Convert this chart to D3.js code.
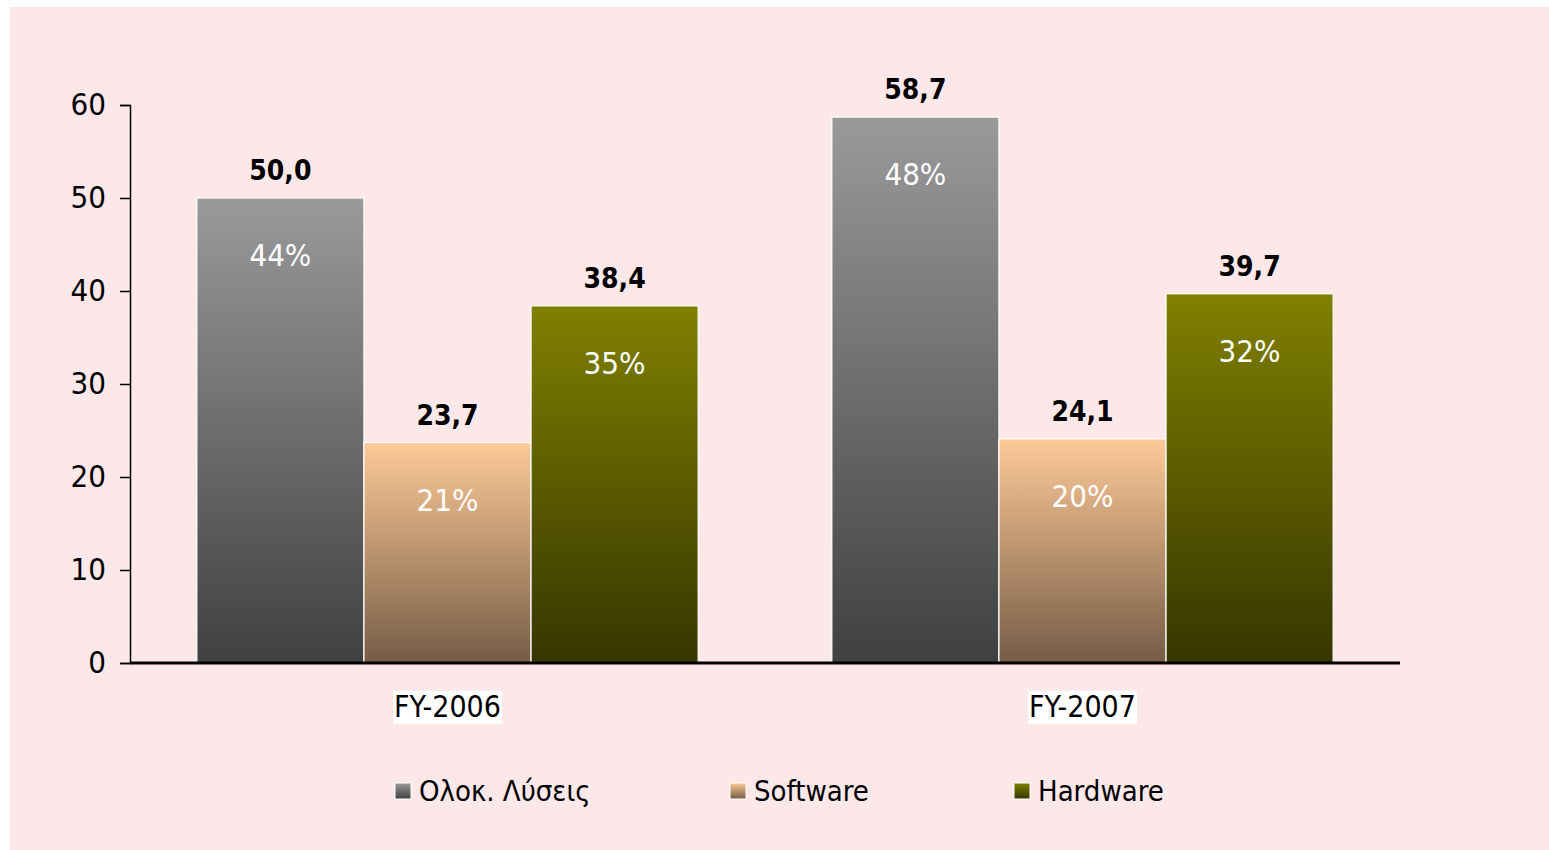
<!DOCTYPE html>
<html>
<head>
<meta charset="utf-8">
<script src="https://cdn.jsdelivr.net/npm/d3@7"></script>
<style>
  body { margin: 0; background: #ffffff; }
  svg { display: block; }
  text { font-family: "DejaVu Sans Condensed", "DejaVu Sans", sans-serif; }
</style>
</head>
<body>
<div id="chart"></div>
<script>
// chart data
const years = ["FY-2006", "FY-2007"];
const seriesNames = ["Ολοκ. Λύσεις", "Software", "Hardware"];
const solutions = [50.0, 58.7];
const software = [23.7, 24.1];
const hardware = [38.4, 39.7];
const solutionsPct = ["44%", "48%"];
const softwarePct = ["21%", "20%"];
const hardwarePct = ["35%", "32%"];
const yTicks = [0, 10, 20, 30, 40, 50, 60];

const W = 1549, H = 850;
const margin = { top: 105, right: 149, bottom: 187, left: 130 };
const width = W - margin.left - margin.right;
const height = H - margin.top - margin.bottom;

const gradients = [
    { id: "g0", top: "#9a9a9a", bottom: "#404040" },
    { id: "g1", top: "#fdca98", bottom: "#765c45" },
    { id: "g2", top: "#808000", bottom: "#363600" }
];

const svg = d3.select("#chart").append("svg")
    .attr("width", W)
    .attr("height", H);

const defs = svg.append("defs");
gradients.forEach(g => {
    const lg = defs.append("linearGradient")
        .attr("id", g.id)
        .attr("x1", 0).attr("y1", 0).attr("x2", 0).attr("y2", 1);
    lg.append("stop").attr("offset", "0%").attr("stop-color", g.top);
    lg.append("stop").attr("offset", "100%").attr("stop-color", g.bottom);
});

// pink slide background
svg.append("rect")
    .attr("x", 10).attr("y", 7)
    .attr("width", W - 10).attr("height", H - 7)
    .attr("fill", "#fde8e9");

const g = svg.append("g")
    .attr("transform", `translate(${margin.left},${margin.top})`);

const x0 = d3.scaleBand()
    .domain(years)
    .range([0, width]);

const x1 = d3.scaleBand()
    .domain(seriesNames)
    .range([0, x0.bandwidth()])
    .paddingOuter(0.4)
    .paddingInner(0);

const y = d3.scaleLinear()
    .domain([0, 60])
    .range([height, 0]);

const rows = years.map((yr, i) => ({
    year: yr,
    items: [
        { name: seriesNames[0], value: solutions[i], pct: solutionsPct[i], grad: "g0" },
        { name: seriesNames[1], value: software[i], pct: softwarePct[i], grad: "g1" },
        { name: seriesNames[2], value: hardware[i], pct: hardwarePct[i], grad: "g2" }
    ]
}));

const groups = g.selectAll(".grp")
    .data(rows)
  .enter().append("g")
    .attr("class", "grp")
    .attr("transform", d => `translate(${x0(d.year)},0)`);

groups.selectAll("rect")
    .data(d => d.items)
  .enter().append("rect")
    .attr("x", d => x1(d.name))
    .attr("y", d => y(d.value))
    .attr("width", x1.bandwidth())
    .attr("height", d => y(0) - y(d.value))
    .attr("fill", d => `url(#${d.grad})`)
    .attr("stroke", "#ffffff")
    .attr("stroke-width", 1.2);

// value labels above bars
groups.selectAll(".val")
    .data(d => d.items)
  .enter().append("text")
    .attr("class", "val")
    .attr("x", d => x1(d.name) + x1.bandwidth() / 2)
    .attr("y", d => y(d.value) - 18)
    .attr("text-anchor", "middle")
    .style("font-size", "28px")
    .style("font-weight", "bold")
    .style("fill", "#000")
    .text(d => d.value.toFixed(1).replace(".", ","));

// percent labels inside bars
groups.selectAll(".pct")
    .data(d => d.items)
  .enter().append("text")
    .attr("class", "pct")
    .attr("x", d => x1(d.name) + x1.bandwidth() / 2)
    .attr("y", d => y(d.value) + 68)
    .attr("text-anchor", "middle")
    .style("font-size", "31px")
    .style("fill", "#ffffff")
    .text(d => d.pct);

// y axis
const yAxis = g.append("g")
    .call(d3.axisLeft(y).tickValues(yTicks).tickSize(10).tickPadding(14));
yAxis.select(".domain").attr("stroke", "#000").attr("stroke-width", 1.5);
yAxis.selectAll(".tick line").attr("stroke", "#000").attr("stroke-width", 1.5);
yAxis.selectAll(".tick text")
    .style("font-size", "31px")
    .style("fill", "#000")
    .style("font-family", "'DejaVu Sans Condensed', 'DejaVu Sans', sans-serif");

// x axis
g.append("line")
    .attr("x1", 0).attr("x2", width)
    .attr("y1", y(0)).attr("y2", y(0))
    .attr("stroke", "#000")
    .attr("stroke-width", 3);

// category labels with white boxes
const cat = g.selectAll(".cat")
    .data(years)
  .enter().append("g")
    .attr("class", "cat")
    .attr("transform", d => `translate(${x0(d) + x0.bandwidth() / 2},${y(0) + 43})`);
cat.append("text")
    .attr("text-anchor", "middle")
    .attr("dy", "0.36em")
    .style("font-size", "30px")
    .style("fill", "#000")
    .text(d => d);
cat.insert("rect", "text")
    .each(function() {
        const b = this.parentNode.querySelector("text").getBBox();
        d3.select(this)
            .attr("x", b.x - 1).attr("y", b.y + 2)
            .attr("width", b.width + 2).attr("height", b.height - 2)
            .attr("fill", "#ffffff");
    });

// legend
const legendX = [395, 730, 1014];
const legend = svg.selectAll(".leg")
    .data(seriesNames)
  .enter().append("g")
    .attr("class", "leg")
    .attr("transform", (d, i) => `translate(${legendX[i]},791)`);
legend.append("rect")
    .attr("x", 0).attr("y", -8)
    .attr("width", 16).attr("height", 16)
    .attr("fill", (d, i) => `url(#${gradients[i].id})`)
    .attr("stroke", "#ffffff")
    .attr("stroke-width", 1);
legend.append("text")
    .attr("x", 24)
    .attr("dy", "0.36em")
    .style("font-size", "29px")
    .style("fill", "#000")
    .text(d => d);
</script>
</body>
</html>
